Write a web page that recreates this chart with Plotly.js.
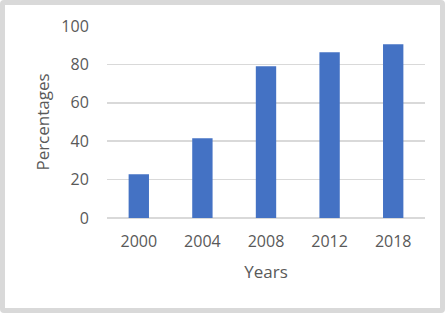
<!DOCTYPE html>
<html>
<head>
<meta charset="utf-8">
<script src="https://cdn.plot.ly/plotly-3.0.1.min.js"></script>
<style>
html,body{margin:0;padding:0;background:#fff;}
#wrap{width:445px;height:313px;box-sizing:border-box;border:5px solid #d9d9d9;border-radius:4px;background:#fff;}
#chart{width:435px;height:303px;}
</style>
</head>
<body>
<div id="wrap"><div id="chart"></div></div>
<script>
const years = ['2000', '2004', '2008', '2012', '2018'];
const percentages = [22.8, 41.5, 79.0, 86.3, 90.5];
const yTicks = [0, 20, 40, 60, 80, 100];

const font = {family: '"Open Sans", sans-serif', size: 16, color: '#595959'};
const tfont = {family: '"Open Sans", sans-serif', size: 17, color: '#595959'};

Plotly.newPlot('chart', [{
  type: 'bar',
  x: years,
  y: percentages,
  marker: {color: '#4472C4'},
  hoverinfo: 'skip'
}], {
  width: 435, height: 303,
  margin: {l: 102, r: 15, t: 21, b: 90},
  paper_bgcolor: '#fff', plot_bgcolor: '#fff',
  bargap: 0.68,
  showlegend: false,
  font: font,
  xaxis: {
    type: 'category',
    showgrid: false, zeroline: false, showline: false,
    ticks: 'outside', ticklen: 9, tickcolor: 'rgba(0,0,0,0)',
    tickfont: font,
    title: {text: 'Years', font: tfont, standoff: 14}
  },
  yaxis: {
    range: [0, 100],
    tickvals: yTicks,
    showgrid: true, gridcolor: '#d9d9d9', gridwidth: 1.5,
    zeroline: true, zerolinecolor: '#d9d9d9', zerolinewidth: 1.5,
    showline: false,
    ticks: 'outside', ticklen: 14, tickcolor: 'rgba(0,0,0,0)',
    tickfont: font,
    title: {text: 'Percentages', font: tfont, standoff: 7}
  }
}, {displayModeBar: false, staticPlot: true});
</script>
</body>
</html>
